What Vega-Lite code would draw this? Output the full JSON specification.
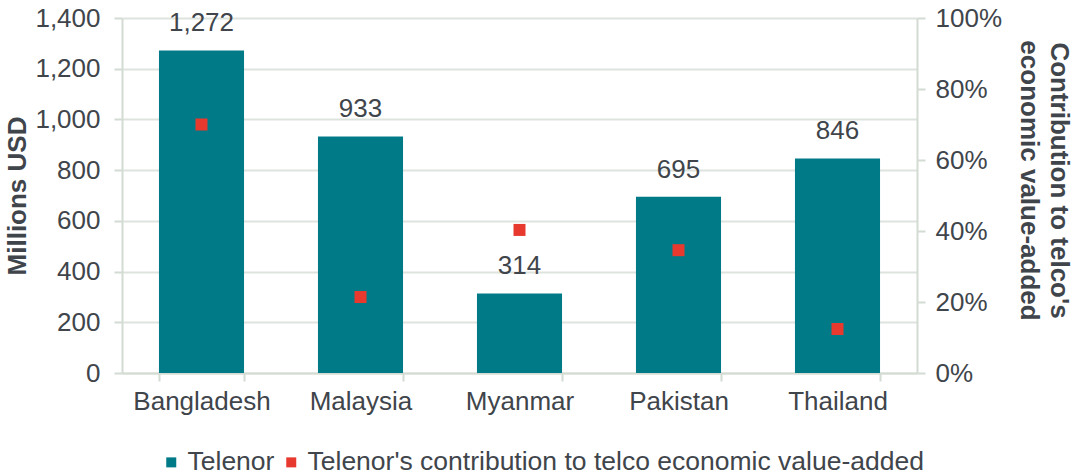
{
  "$schema": "https://vega.github.io/schema/vega-lite/v6.json",
  "width": 795,
  "height": 355,
  "autosize": {"type": "none"},
  "padding": {"left": 122, "top": 18, "right": 157, "bottom": 103},
  "background": "white",
  "config": {
    "view": {"stroke": null},
    "font": "Liberation Sans",
    "axis": {
      "domainColor": "#d3dbd3",
      "domainWidth": 2,
      "tickColor": "#d3dbd3",
      "tickWidth": 2,
      "tickSize": 8,
      "labelColor": "#40454b",
      "labelFontSize": 26,
      "labelFont": "Liberation Sans",
      "titleFont": "Liberation Sans",
      "titleFontSize": 26,
      "titleFontWeight": "bold",
      "titleColor": "#40454b",
      "gridColor": "#dde3dd",
      "gridWidth": 2
    }
  },
  "data": {
    "values": [
      {"country": "Bangladesh", "value": 1272, "share": 0.70},
      {"country": "Malaysia", "value": 933, "share": 0.214},
      {"country": "Myanmar", "value": 314, "share": 0.403},
      {"country": "Pakistan", "value": 695, "share": 0.346},
      {"country": "Thailand", "value": 846, "share": 0.124}
    ]
  },
  "layer": [
    {
      "layer": [
        {
          "mark": {"type": "bar"},
          "encoding": {
            "x": {
              "field": "country",
              "type": "nominal",
              "sort": null,
              "scale": {"paddingInner": 0.465, "paddingOuter": 0.2325},
              "axis": {
                "title": null,
                "labelAngle": 0,
                "tickBand": "extent",
                "labelPadding": 7,
                "grid": false
              }
            },
            "y": {
              "field": "value",
              "type": "quantitative",
              "scale": {"domain": [0, 1400], "nice": false},
              "axis": {
                "title": "Millions USD",
                "values": [0, 200, 400, 600, 800, 1000, 1200, 1400],
                "format": ",.0f",
                "grid": true,
                "labelPadding": 14,
                "titlePadding": 4
              }
            },
            "color": {
              "datum": "Telenor",
              "type": "nominal",
              "scale": {
                "domain": ["Telenor", "Telenor's contribution to telco economic value-added"],
                "range": ["#007a87", "#e8392f"]
              },
              "legend": {
                "orient": "none",
                "legendX": 36,
                "legendY": 431,
                "direction": "horizontal",
                "title": null,
                "labelFontSize": 26.5,
                "labelColor": "#40454b",
                "labelLimit": 0,
                "symbolType": "square",
                "symbolSize": 100,
                "symbolStrokeWidth": 0,
                "labelOffset": 3,
                "columnPadding": 3
              }
            }
          }
        },
        {
          "mark": {"type": "text", "dy": -19, "baseline": "alphabetic", "fontSize": 26, "color": "#40454b", "font": "Liberation Sans"},
          "encoding": {
            "x": {"field": "country", "type": "nominal", "sort": null},
            "y": {"field": "value", "type": "quantitative"},
            "text": {"field": "value", "type": "quantitative", "format": ",.0f"}
          }
        }
      ]
    },
    {
      "mark": {"type": "point", "shape": "square", "filled": true, "size": 144, "opacity": 1},
      "encoding": {
        "x": {"field": "country", "type": "nominal", "sort": null},
        "y": {
          "field": "share",
          "type": "quantitative",
          "scale": {"domain": [0, 1], "nice": false},
          "axis": {
            "orient": "right",
            "title": ["Contribution to telco's", "economic value-added"],
            "values": [0, 0.2, 0.4, 0.6, 0.8, 1],
            "format": ".0%",
            "grid": false,
            "labelPadding": 10,
            "titlePadding": 14,
            "titleLineHeight": 30,
            "titleY": 162
          }
        },
        "color": {"datum": "Telenor's contribution to telco economic value-added", "type": "nominal"}
      }
    }
  ],
  "resolve": {"scale": {"y": "independent"}}
}
